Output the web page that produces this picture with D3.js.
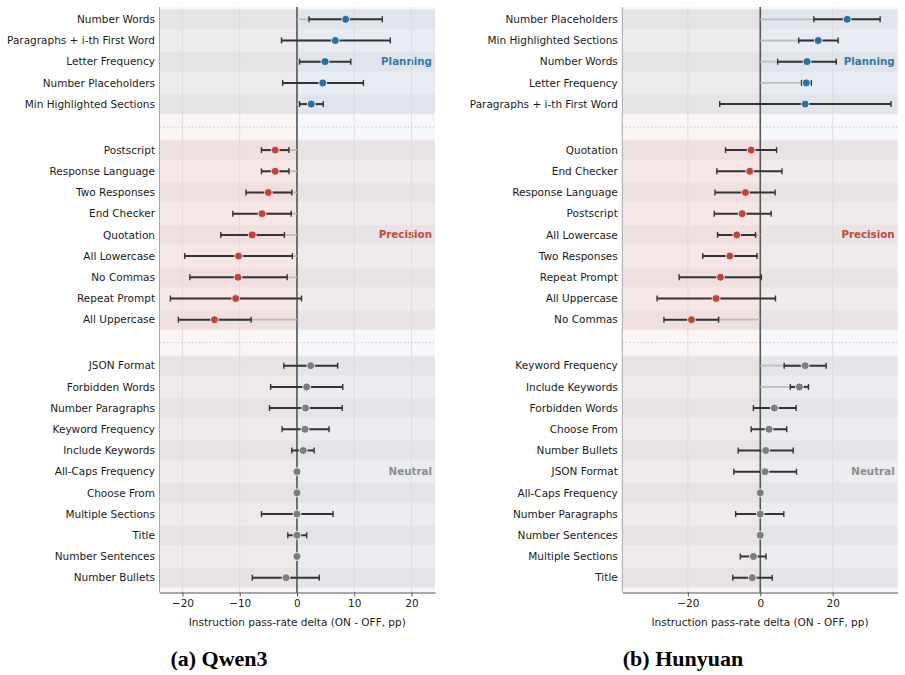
<!DOCTYPE html>
<html>
<head>
<meta charset="utf-8">
<script src="https://cdn.jsdelivr.net/npm/d3@7"></script>
<style>
  body { margin: 0; background: #fff; }
  text { font-family: "DejaVu Sans", sans-serif; }
  text.caption { font-family: "Liberation Serif", "Times New Roman", serif; }
</style>
</head>
<body>
<script>
// Group names (order of blocks from top to bottom)
var groups = ["Planning", "Precision", "Neutral"];

// Panel (a) Qwen3
var qwenTasks = [
  "Number Words", "Paragraphs + i-th First Word", "Letter Frequency", "Number Placeholders", "Min Highlighted Sections",
  "Postscript", "Response Language", "Two Responses", "End Checker", "Quotation", "All Lowercase", "No Commas", "Repeat Prompt", "All Uppercase",
  "JSON Format", "Forbidden Words", "Number Paragraphs", "Keyword Frequency", "Include Keywords", "All-Caps Frequency", "Choose From", "Multiple Sections", "Title", "Number Sentences", "Number Bullets"
];
var qwenGroup = [0,0,0,0,0, 1,1,1,1,1,1,1,1,1, 2,2,2,2,2,2,2,2,2,2,2];
var qwenMean = [8.5, 6.7, 4.9, 4.5, 2.5,
  -3.8, -3.8, -5.0, -6.1, -7.8, -10.2, -10.3, -10.7, -14.4,
  2.4, 1.7, 1.5, 1.4, 1.1, 0, 0, 0, 0, 0, -1.9];
var qwenLow = [2.1, -2.7, 0.45, -2.5, 0.45,
  -6.2, -6.2, -8.9, -11.2, -13.3, -19.6, -18.7, -22.1, -20.7,
  -2.3, -4.6, -4.8, -2.6, -0.9, null, null, -6.2, -1.6, null, -7.8];
var qwenHigh = [14.9, 16.3, 9.4, 11.6, 4.6,
  -1.4, -1.4, -0.9, -1.0, -2.2, -0.8, -1.7, 0.8, -8.0,
  7.1, 8.0, 7.9, 5.6, 3.0, null, null, 6.3, 1.7, null, 3.9];
var qwenTicks = [-20, -10, 0, 10, 20];

// Panel (b) Hunyuan
var hunyuanTasks = [
  "Number Placeholders", "Min Highlighted Sections", "Number Words", "Letter Frequency", "Paragraphs + i-th First Word",
  "Quotation", "End Checker", "Response Language", "Postscript", "All Lowercase", "Two Responses", "Repeat Prompt", "All Uppercase", "No Commas",
  "Keyword Frequency", "Include Keywords", "Forbidden Words", "Choose From", "Number Bullets", "JSON Format", "All-Caps Frequency", "Number Paragraphs", "Number Sentences", "Multiple Sections", "Title"
];
var hunyuanGroup = [0,0,0,0,0, 1,1,1,1,1,1,1,1,1, 2,2,2,2,2,2,2,2,2,2,2];
var hunyuanMean = [24.0, 16.0, 12.9, 12.7, 12.4,
  -2.5, -2.9, -4.1, -5.0, -6.5, -8.4, -11.0, -12.2, -19.0,
  12.4, 10.8, 3.9, 2.4, 1.5, 1.3, 0, 0, 0, -1.9, -2.2];
var hunyuanLow = [14.8, 10.6, 4.8, 11.4, -11.2,
  -9.6, -12.0, -12.5, -12.7, -11.8, -15.9, -22.4, -28.5, -26.6,
  6.6, 8.3, -1.9, -2.5, -6.1, -7.3, null, -6.8, null, -5.5, -7.6];
var hunyuanHigh = [33.1, 21.5, 21.0, 14.1, 36.1,
  4.5, 6.0, 4.1, 3.0, -1.3, -0.9, 0.3, 4.2, -11.5,
  18.2, 13.3, 9.9, 7.3, 9.1, 10.0, null, 6.5, null, 1.6, 3.3];
var hunyuanTicks = [-20, 0, 20];

var width = 905, height = 675;
var style = {
  dot: ["#2b6ea2", "#c0443a", "#7c7c7c"],
  label: ["#3a74a8", "#bf4a3e", "#8c8c8c"],
  band: ["#5b7fa8", "#c0473a", "#707070"],
  bandAlpha: [0.085, 0.07, 0.08]
};

var svg = d3.select("body").append("svg")
    .attr("width", width)
    .attr("height", height);

// Row positions in "row units": gap of 2.17 rows between groups
var GAP = 2.17;
function rowPositions(grp) {
  var pos = [], cur = 0;
  grp.forEach(function(g, i) {
    if (i > 0) cur += (g !== grp[i - 1]) ? GAP : 1;
    pos.push(cur);
  });
  return pos;
}

function drawPanel(opt) {
  var left = opt.left, right = opt.right, top = 7, bottom = 592.5;
  var x = d3.scaleLinear().domain(opt.domain).range([left, right]);
  var pos = rowPositions(opt.group);
  var y = d3.scaleLinear().domain([-0.58, pos[pos.length - 1] + 0.7]).range([top, bottom]);
  var g = svg.append("g");
  var x0 = x(0);

  // base halves
  g.append("rect").attr("x", left).attr("y", top).attr("width", x0 - left).attr("height", bottom - top).attr("fill", "#faf4f4");
  g.append("rect").attr("x", x0).attr("y", top).attr("width", right - x0).attr("height", bottom - top).attr("fill", "#f5f7fa");

  // group bands
  groups.forEach(function(name, gi) {
    var idx = d3.range(opt.group.length).filter(function(i) { return opt.group[i] === gi; });
    var p0 = pos[idx[0]], p1 = pos[idx[idx.length - 1]];
    g.append("rect")
      .attr("x", left).attr("width", right - left)
      .attr("y", y(p0 - 0.47)).attr("height", y(p1 + 0.47) - y(p0 - 0.47))
      .attr("fill", style.band[gi]).attr("fill-opacity", style.bandAlpha[gi]);
    // stripes on every other row
    idx.forEach(function(i, k) {
      if (k % 2 === 0) {
        g.append("rect")
          .attr("x", left).attr("width", right - left)
          .attr("y", y(pos[i] - 0.47)).attr("height", y(pos[i] + 0.47) - y(pos[i] - 0.47))
          .attr("fill", "#000").attr("fill-opacity", 0.028);
      }
    });
    // group label at middle row
    var mid = idx[Math.floor((idx.length - 1) / 2)];
    g.append("text")
      .attr("x", right - 3).attr("y", y(pos[mid]))
      .attr("dy", "0.35em")
      .attr("text-anchor", "end")
      .attr("font-size", 10.3).attr("font-weight", "bold")
      .attr("fill", style.label[gi])
      .text(name);
    // dotted separator between groups
    if (gi > 0) {
      var prevLast = pos[idx[0] - 1];
      g.append("line")
        .attr("x1", left).attr("x2", right)
        .attr("y1", y((prevLast + p0) / 2)).attr("y2", y((prevLast + p0) / 2))
        .attr("stroke", "#c9b9bd").attr("stroke-width", 1)
        .attr("stroke-dasharray", "1.2,2.4");
    }
  });

  // vertical grid
  g.selectAll("line.grid").data(opt.ticks).enter().append("line")
    .attr("class", "grid")
    .attr("x1", function(d) { return x(d); }).attr("x2", function(d) { return x(d); })
    .attr("y1", top).attr("y2", bottom)
    .attr("stroke", "#d8d8dc").attr("stroke-width", 0.8);

  // zero line
  g.append("line").attr("x1", x0).attr("x2", x0).attr("y1", top).attr("y2", bottom)
    .attr("stroke", "#555").attr("stroke-width", 1.6);

  // stems from zero to mean
  g.selectAll("line.stem").data(opt.mean).enter().append("line")
    .attr("x1", x0).attr("x2", function(d) { return x(d); })
    .attr("y1", function(d, i) { return y(pos[i]); }).attr("y2", function(d, i) { return y(pos[i]); })
    .attr("stroke", "#bdbdbd").attr("stroke-width", 1.8);

  // error bars
  opt.mean.forEach(function(m, i) {
    var lo = opt.low[i], hi = opt.high[i];
    if (lo === null || hi === null) return;
    var yy = y(pos[i]);
    g.append("line").attr("x1", x(lo)).attr("x2", x(hi)).attr("y1", yy).attr("y2", yy)
      .attr("stroke", "#333").attr("stroke-width", 2);
    [lo, hi].forEach(function(v) {
      g.append("line").attr("x1", x(v)).attr("x2", x(v)).attr("y1", yy - 3).attr("y2", yy + 3)
        .attr("stroke", "#333").attr("stroke-width", 1.4);
    });
  });

  // dots
  g.selectAll("circle.pt").data(opt.mean).enter().append("circle")
    .attr("cx", function(d) { return x(d); })
    .attr("cy", function(d, i) { return y(pos[i]); })
    .attr("r", 4)
    .attr("fill", function(d, i) { return style.dot[opt.group[i]]; })
    .attr("stroke", "#fff").attr("stroke-width", 0.8);

  // task labels
  g.selectAll("text.task").data(opt.tasks).enter().append("text")
    .attr("x", left - 4.5)
    .attr("y", function(d, i) { return y(pos[i]); })
    .attr("dy", "0.35em")
    .attr("text-anchor", "end")
    .attr("font-size", 10.5).attr("fill", "#1a1a1a")
    .text(function(d) { return d; });

  // left spine
  g.append("line").attr("x1", left).attr("x2", left).attr("y1", top).attr("y2", bottom)
    .attr("stroke", "#a8a8a8").attr("stroke-width", 1);

  // x axis
  var ax = g.append("g").attr("transform", "translate(0," + bottom + ")")
    .call(d3.axisBottom(x).tickValues(opt.ticks).tickSize(4).tickPadding(3).tickSizeOuter(0));
  ax.select(".domain").attr("stroke", "#555");
  ax.selectAll(".tick line").attr("stroke", "#555");
  ax.selectAll(".tick text").attr("font-size", 10.5).attr("fill", "#222")
    .attr("font-family", "DejaVu Sans");

  g.append("text")
    .attr("x", (left + right) / 2).attr("y", 626)
    .attr("text-anchor", "middle")
    .attr("font-size", 10.5).attr("fill", "#222")
    .text("Instruction pass-rate delta (ON - OFF, pp)");

  g.append("text")
    .attr("class", "caption")
    .attr("x", opt.captionX).attr("y", 666)
    .attr("text-anchor", "middle")
    .attr("font-weight", "bold").attr("font-size", 22)
    .attr("fill", "#000")
    .text(opt.caption);
}

drawPanel({
  tasks: qwenTasks, group: qwenGroup, mean: qwenMean, low: qwenLow, high: qwenHigh,
  ticks: qwenTicks, domain: [-24, 24.1], left: 159.5, right: 435,
  caption: "(a) Qwen3", captionX: 219
});

drawPanel({
  tasks: hunyuanTasks, group: hunyuanGroup, mean: hunyuanMean, low: hunyuanLow, high: hunyuanHigh,
  ticks: hunyuanTicks, domain: [-38.1, 37.95], left: 622.3, right: 897.7,
  caption: "(b) Hunyuan", captionX: 683
});
</script>
</body>
</html>
